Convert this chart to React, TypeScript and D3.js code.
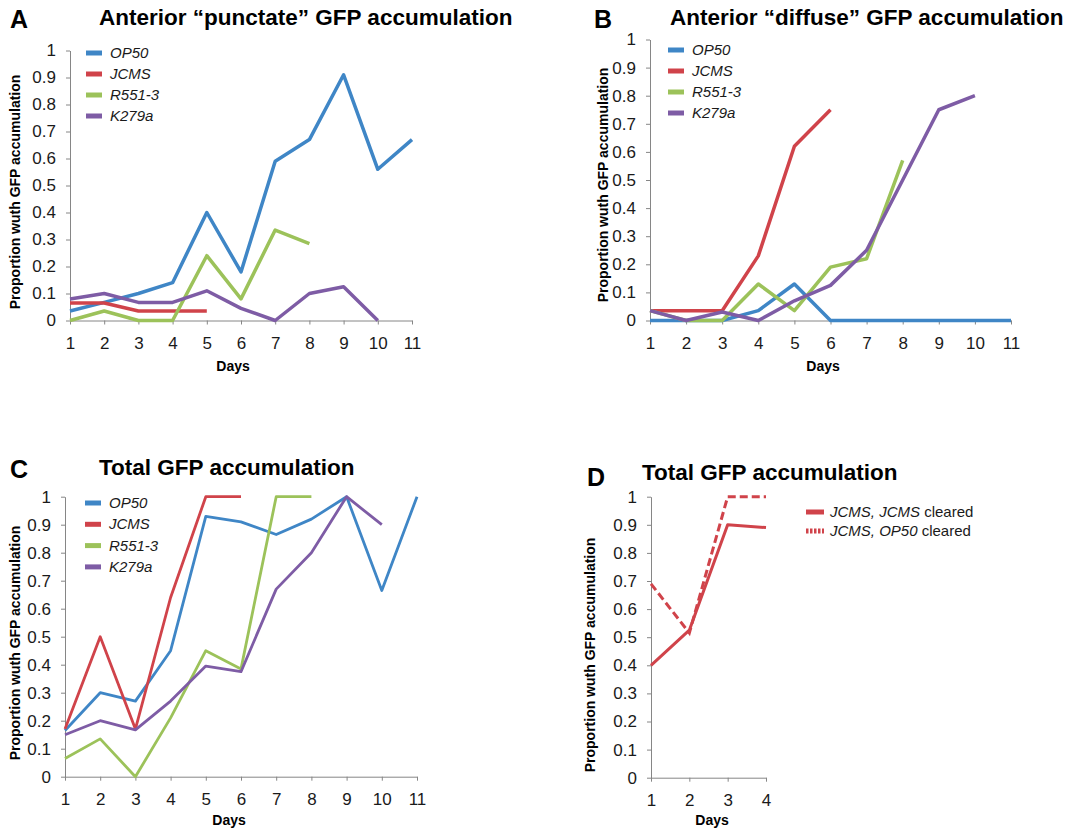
import React, { useEffect, useRef } from 'react';
import * as d3 from 'd3';

// strains shown in panels A-C
const strains = ['OP50', 'JCMS', 'R551-3', 'K279a'];
const strainColors = ['#3f86c6', '#d0434a', '#9cc25a', '#7e5ca5'];

const yTicks = d3.range(0, 11).map(i => i / 10);

// A: anterior "punctate" accumulation, one value per day starting at day 1
const punctateOP50 = [0.035, 0.067, 0.1, 0.14, 0.4, 0.18, 0.59, 0.67, 0.91, 0.56, 0.67];
const punctateJCMS = [0.065, 0.065, 0.035, 0.035, 0.035];
const punctateR551 = [0, 0.035, 0, 0, 0.24, 0.08, 0.335, 0.285];
const punctateK279a = [0.08, 0.1, 0.067, 0.067, 0.11, 0.045, 0, 0.1, 0.125, 0];

// B: anterior "diffuse" accumulation
const diffuseOP50 = [0, 0, 0, 0.035, 0.13, 0, 0, 0, 0, 0, 0];
const diffuseJCMS = [0.035, 0.035, 0.035, 0.23, 0.62, 0.75];
const diffuseR551 = [0.035, 0, 0, 0.13, 0.035, 0.19, 0.22, 0.57];
const diffuseK279a = [0.035, 0, 0.03, 0, 0.07, 0.125, 0.25, 0.5, 0.75, 0.8];

// C: total accumulation
const totalOP50 = [0.165, 0.3, 0.27, 0.45, 0.93, 0.91, 0.865, 0.92, 1, 0.665, 1];
const totalJCMS = [0.17, 0.5, 0.17, 0.64, 1, 1];
const totalR551 = [0.065, 0.135, 0, 0.21, 0.45, 0.385, 1, 1];
const totalK279a = [0.15, 0.2, 0.167, 0.27, 0.395, 0.375, 0.67, 0.8, 1, 0.9];

// D: cleared worms
const clearedJCMS = [0.4, 0.525, 0.9, 0.89];
const clearedOP50 = [0.69, 0.515, 1, 1];

const days11 = d3.range(1, 12);
const days4 = d3.range(1, 5);

const FONT = '"Liberation Sans", Arial, sans-serif';
const AXIS = '#868686';

const panels = [
  {
    letter: 'A', title: 'Anterior “punctate” GFP accumulation', days: days11,
    series: [punctateOP50, punctateJCMS, punctateR551, punctateK279a],
    x0: 70, x1: 412, yt: 50.5, yb: 320.5, lw: 3.5,
    letterPos: [10, 28], titlePos: [99, 25], daysPos: [233, 371], ylabPos: [20, 192],
    legend: [86, 53, 21]
  },
  {
    letter: 'B', title: 'Anterior “diffuse” GFP accumulation', days: days11,
    series: [diffuseOP50, diffuseJCMS, diffuseR551, diffuseK279a],
    x0: 650, x1: 1011, yt: 39.5, yb: 320.5, lw: 3.5,
    letterPos: [594, 28], titlePos: [670, 25], daysPos: [823, 371], ylabPos: [608, 185],
    legend: [668, 50, 21]
  },
  {
    letter: 'C', title: 'Total GFP accumulation', days: days11,
    series: [totalOP50, totalJCMS, totalR551, totalK279a],
    x0: 65, x1: 417, yt: 496.7, yb: 776.7, lw: 2.8,
    letterPos: [10, 478], titlePos: [99, 475], daysPos: [229, 825], ylabPos: [20, 643],
    legend: [85, 503, 21.3]
  }
];

function drawAxes(g, x, y, days, x0, yb) {
  const ya = g.append('g')
    .attr('transform', `translate(${x0},0)`)
    .call(d3.axisLeft(y).tickValues(yTicks).tickSize(4).tickSizeOuter(0).tickPadding(10).tickFormat(d3.format('~g')));
  const xa = g.append('g')
    .attr('transform', `translate(0,${yb})`)
    .call(d3.axisBottom(x).tickValues(days).tickSize(4).tickSizeOuter(0).tickPadding(12).tickFormat(d3.format('d')));
  [ya, xa].forEach(a => {
    a.select('.domain').attr('stroke', AXIS);
    a.selectAll('line').attr('stroke', AXIS);
    a.selectAll('text').attr('font-size', 17).attr('font-family', FONT).attr('fill', '#1a1a1a');
  });
}

function drawLabels(g, p) {
  g.append('text').attr('x', p.letterPos[0]).attr('y', p.letterPos[1])
    .attr('font-size', 25).attr('font-weight', 'bold').attr('font-family', FONT).text(p.letter);
  g.append('text').attr('x', p.titlePos[0]).attr('y', p.titlePos[1])
    .attr('font-size', 22.5).attr('font-weight', 'bold').attr('font-family', FONT).text(p.title);
  g.append('text').attr('x', p.daysPos[0]).attr('y', p.daysPos[1]).attr('text-anchor', 'middle')
    .attr('font-size', 14).attr('font-weight', 'bold').attr('font-family', FONT).text('Days');
  g.append('text')
    .attr('transform', `translate(${p.ylabPos[0]},${p.ylabPos[1]}) rotate(-90)`)
    .attr('text-anchor', 'middle')
    .attr('font-size', 14).attr('font-weight', 'bold').attr('font-family', FONT)
    .text('Proportion wuth GFP accumulation');
}

const App = () => {
  const ref = useRef<SVGSVGElement>(null);

  useEffect(() => {
    const svg = d3.select(ref.current);
    svg.selectAll('*').remove();

    panels.forEach(p => {
      const g = svg.append('g');
      const x = d3.scaleLinear().domain([1, p.days.length]).range([p.x0, p.x1]);
      const y = d3.scaleLinear().domain([0, 1]).range([p.yb, p.yt]);
      drawAxes(g, x, y, p.days, p.x0, p.yb);

      const line = d3.line<number>().x((d, i) => x(i + 1)).y(d => y(d));
      p.series.forEach((s, k) => {
        g.append('path')
          .datum(s)
          .attr('fill', 'none')
          .attr('stroke', strainColors[k])
          .attr('stroke-width', p.lw)
          .attr('stroke-linejoin', 'round')
          .attr('d', line);
      });

      // legend
      const [lx, ly, step] = p.legend;
      strains.forEach((name, k) => {
        g.append('line')
          .attr('x1', lx).attr('x2', lx + 16)
          .attr('y1', ly + k * step).attr('y2', ly + k * step)
          .attr('stroke', strainColors[k]).attr('stroke-width', 5);
        g.append('text')
          .attr('x', lx + 24).attr('y', ly + k * step + 5)
          .attr('font-size', 15).attr('font-style', 'italic').attr('font-family', FONT)
          .attr('fill', '#1a1a1a')
          .text(name);
      });

      drawLabels(g, p);
    });

    // Panel D
    const d = {
      letter: 'D', title: 'Total GFP accumulation',
      letterPos: [587, 486], titlePos: [642, 480], daysPos: [712, 825], ylabPos: [595, 655]
    };
    const g = svg.append('g');
    const x = d3.scaleLinear().domain([1, 4]).range([651, 766]);
    const y = d3.scaleLinear().domain([0, 1]).range([777.7, 496.7]);
    drawAxes(g, x, y, days4, 651, 777.7);
    const red = strainColors[1];
    const line = d3.line<number>().x((v, i) => x(i + 1)).y(v => y(v));
    g.append('path').datum(clearedJCMS)
      .attr('fill', 'none').attr('stroke', red).attr('stroke-width', 3)
      .attr('stroke-linejoin', 'round').attr('d', line);
    g.append('path').datum(clearedOP50)
      .attr('fill', 'none').attr('stroke', red).attr('stroke-width', 3)
      .attr('stroke-dasharray', '8,4').attr('d', line);

    const legendD = [
      { dash: null, strain: 'JCMS, JCMS' },
      { dash: '2.5,1.5', strain: 'JCMS, OP50' }
    ];
    legendD.forEach((e, k) => {
      const ly = 512 + k * 19;
      g.append('line')
        .attr('x1', 806).attr('x2', 824).attr('y1', ly).attr('y2', ly)
        .attr('stroke', red).attr('stroke-width', 5)
        .attr('stroke-dasharray', e.dash);
      const t = g.append('text')
        .attr('x', 830).attr('y', ly + 5)
        .attr('font-size', 15).attr('font-family', FONT).attr('fill', '#1a1a1a');
      t.append('tspan').attr('font-style', 'italic').text(e.strain);
      t.append('tspan').text(' cleared');
    });
    drawLabels(g, d);
  }, []);

  return (
    <svg
      ref={ref}
      width={1076}
      height={830}
      style={{ position: 'absolute', left: 0, top: 0, background: '#fff' }}
    />
  );
};

export default App;
